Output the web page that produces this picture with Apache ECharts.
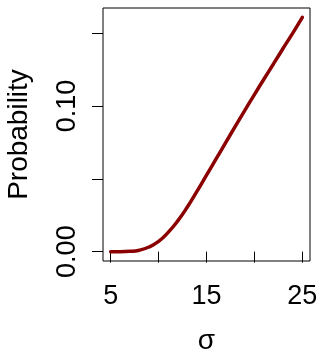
<!DOCTYPE html>
<html>
<head>
<meta charset="utf-8">
<script src="https://cdn.jsdelivr.net/npm/echarts@6/dist/echarts.min.js"></script>
<style>
html,body{margin:0;padding:0;background:#fff;}
#chart{width:320px;height:352px;}
</style>
</head>
<body>
<div id="chart"></div>
<script>
const sigma = [5, 6, 7, 8, 9, 10, 11, 12, 13, 14, 15, 16, 17, 18, 19, 20, 21, 22, 23, 24, 25];
const probability = [0.0000, 0.0000, 0.0002, 0.0010, 0.0032, 0.0070, 0.0132, 0.0211, 0.0306, 0.0413, 0.0525, 0.0636, 0.0748, 0.0860, 0.0970, 0.1078, 0.1185, 0.1290, 0.1396, 0.1500, 0.1608];
const xTicks = [5, 10, 15, 20, 25];
const xTickLabels = [5, 15, 25];
const yTicks = [0, 0.05, 0.10, 0.15];
const yTickLabels = [0, 0.10];
const xTitle = 'σ';
const yTitle = 'Probability';

const font = '"Liberation Sans", Arial, Helvetica, sans-serif';
const chart = echarts.init(document.getElementById('chart'), null, {renderer: 'canvas'});
const xRange = [4.2, 25.8];
const yMax = 0.1608;
const yRange = [-0.04 * yMax, yMax * 1.04];

chart.setOption({
  animation: false,
  backgroundColor: '#ffffff',
  grid: {
    left: 103, right: 10, top: 8, bottom: 91,
    containLabel: false,
    outerBoundsMode: 'none',
    show: true, borderColor: '#000', borderWidth: 1, backgroundColor: 'transparent'
  },
  xAxis: {
    type: 'value',
    min: xRange[0], max: xRange[1],
    name: xTitle,
    nameLocation: 'middle',
    nameGap: 66,
    nameTextStyle: {fontFamily: font, fontSize: 28, color: '#000'},
    axisLine: {show: false},
    splitLine: {show: false},
    axisTick: {show: true, customValues: xTicks, length: 11, inside: false, lineStyle: {color: '#000', width: 1}},
    axisLabel: {show: true, customValues: xTickLabels, fontFamily: font, fontSize: 27, color: '#000', margin: 22}
  },
  yAxis: {
    type: 'value',
    min: yRange[0], max: yRange[1],
    name: yTitle,
    nameLocation: 'middle',
    nameRotate: 90,
    nameGap: 70,
    nameTextStyle: {fontFamily: font, fontSize: 28, color: '#000'},
    axisLine: {show: false},
    splitLine: {show: false},
    axisTick: {show: true, customValues: yTicks, length: 11, inside: false, lineStyle: {color: '#000', width: 1}},
    axisLabel: {
      show: true, customValues: yTickLabels, rotate: 90,
      fontFamily: font, fontSize: 27, color: '#000', margin: 22,
      formatter: v => Number(v).toFixed(2)
    }
  },
  series: [{
    type: 'line',
    data: sigma.map((s, i) => [s, probability[i]]),
    smooth: true,
    showSymbol: false,
    lineStyle: {color: '#8B0000', width: 3.5, cap: 'round'},
    itemStyle: {color: '#8B0000'}
  }]
});
</script>
</body>
</html>
